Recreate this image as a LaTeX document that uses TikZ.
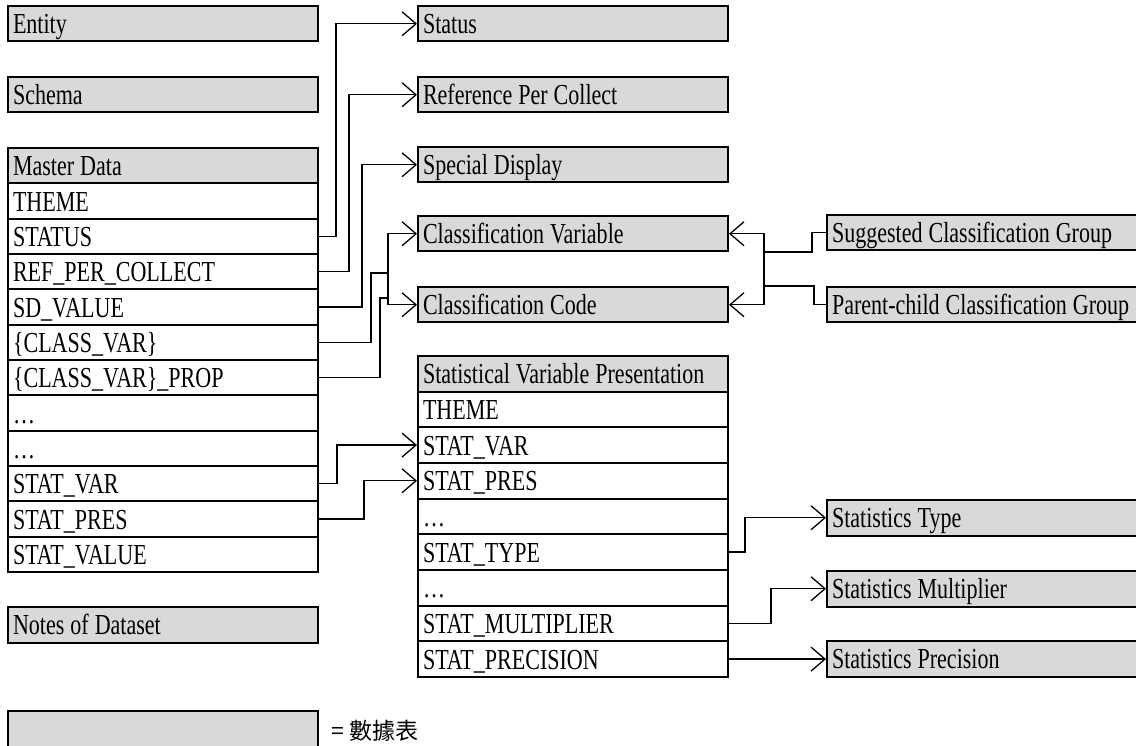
\documentclass[tikz,border=0pt]{standalone}
\usepackage{fontspec}
\setmainfont{Liberation Serif}[FakeStretch=0.76]
\newfontfamily\cjk{Noto Sans CJK TC}
\usetikzlibrary{arrows.meta}
\definecolor{hdrgray}{HTML}{D9D9D9}
\newcommand\tblfont{\fontsize{29pt}{31pt}\selectfont}

\begin{document}
\begin{tikzpicture}
[
x=1pt, y=-1pt,
every node/.style={font=\tblfont},
box/.style={draw, line width=2pt, anchor=north west, text width=300pt, inner xsep=5pt,
  inner ysep=0pt, minimum height=35.5pt, text height=23pt, text depth=3pt, align=left,
  execute at begin node={\spaceskip=6pt\relax\xspaceskip=6pt\relax}},
hdr/.style={box, fill=hdrgray},
row/.style={box, fill=white},
link/.style={line width=1.3pt},
arr/.style={link, -{Straight Barb[length=14pt,width=24pt,line width=1.3pt]}}
]
\useasboundingbox (0,0) rectangle (1136,746);

% left column
\node[hdr] (entity) at (7,5) {Entity};
\node[hdr] (schema) at (7,76) {Schema};
\node[hdr] (md) at (7,147) {Master Data};
\foreach \t [count=\i] in {THEME, STATUS, REF\_PER\_COLLECT, SD\_VALUE, \{CLASS\_VAR\},
  \{CLASS\_VAR\}\_PROP, \ldots, \ldots, STAT\_VAR, STAT\_PRES, STAT\_VALUE}
  \node[row] (md\i) at (7,{147+35.33*\i}) {\t};
\node[hdr] (notes) at (7,606) {Notes of Dataset};

% middle column
\node[hdr] (status) at (417,5) {Status};
\node[hdr] (refpc) at (417,76) {Reference Per Collect};
\node[hdr] (spdisp) at (417,146) {Special Display};
\node[hdr] (clsvar) at (417,215) {Classification Variable};
\node[hdr] (clscode) at (417,286) {Classification Code};
\node[hdr] (svp) at (417,355) {Statistical Variable Presentation};
\foreach \t [count=\i] in {THEME, STAT\_VAR, STAT\_PRES, \ldots, STAT\_TYPE, \ldots,
  STAT\_MULTIPLIER, STAT\_PRECISION}
  \node[row] (svp\i) at (417,{355+35.67*\i}) {\t};

% right column
\node[hdr] (sugg) at (826,214) {Suggested Classification Group};
\node[hdr] (pcgrp) at (826,286) {Parent-child Classification Group};
\node[hdr] (sttype) at (826,499) {Statistics Type};
\node[hdr] (stmult) at (826,570) {Statistics Multiplier};
\node[hdr] (stprec) at (826,640) {Statistics Precision};

% legend
\node[hdr] (legbox) at (7,710) {};
\node[anchor=west, inner sep=0pt, font=\cjk\fontsize{23pt}{25pt}\selectfont] (legtxt) at (331,731) {= 數據表};

% master data links
\draw[arr] (md2.east) -- ++(17,0) |- (status.west);
\draw[arr] (md3.east) -- ++(30,0) |- (refpc.west);
\draw[arr] (md4.east) -- ++(43,0) |- (spdisp.west);
\coordinate (cvj) at (388,273);
\coordinate (cpj) at (388,298);
\draw[link] (md5.east) -| ([xshift=-17pt]cvj) -- (cvj);
\draw[link] (md6.east) -| ([xshift=-8pt]cpj) -- (cpj);
\draw[link] (cvj) -- (cpj);
\draw[arr] (cvj) |- (clsvar.west);
\draw[arr] (cpj) |- (clscode.west);
\draw[arr] (md9.east) -- ++(18,0) |- (svp2.west);
\draw[arr] (md10.east) -- ++(45,0) |- (svp3.west);

% classification groups
\coordinate (sj) at (764,252);
\coordinate (pj) at (764,286);
\draw[link] (sugg.west) -- ++(-14,0) |- (sj);
\draw[link] (pcgrp.west) -- ++(-12,0) |- (pj);
\draw[link] (sj) -- (pj);
\draw[arr] (sj) |- (clsvar.east);
\draw[arr] (pj) |- (clscode.east);

% statistics links
\draw[arr] (svp5.east) -- ++(16,0) |- (sttype.west);
\draw[arr] (svp7.east) -- ++(42,0) |- (stmult.west);
\draw[arr] (svp8.east) -- (svp8.east -| stprec.west);
\end{tikzpicture}
\end{document}
